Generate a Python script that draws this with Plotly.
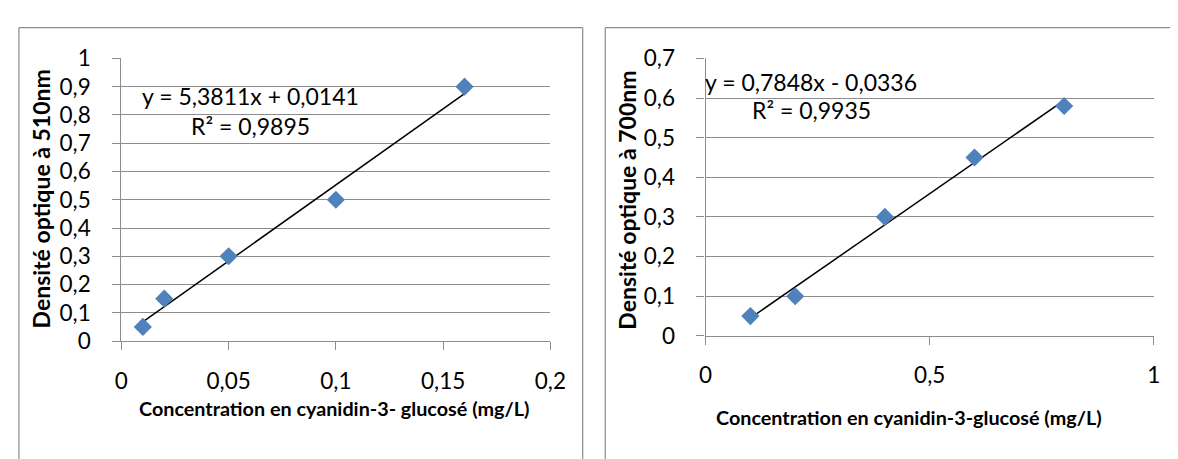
import numpy as np
import plotly.graph_objects as go

# ---- data ----
conc_510 = [0.01, 0.02, 0.05, 0.10, 0.16]
do_510 = [0.05, 0.15, 0.30, 0.50, 0.90]
conc_700 = [0.1, 0.2, 0.4, 0.6, 0.8]
do_700 = [0.05, 0.10, 0.30, 0.45, 0.58]

eq_510 = "y = 5,3811x + 0,0141"
r2_510 = "R² = 0,9895"
eq_700 = "y = 0,7848x - 0,0336"
r2_700 = "R² = 0,9935"

ytitle_510 = "Densité optique à 510nm"
ytitle_700 = "Densité optique à 700nm"
xtitle_510 = "Concentration en cyanidin-3- glucosé (mg/L)"
xtitle_700 = "Concentration en cyanidin-3-glucosé (mg/L)"

W, H = 1178, 459
OFF = 8  # page body margin offset
FONT = "Lato"
BLUE = "#4F81BD"
GRID = "#8C8C8C"


def px(x):
    return (x - OFF) / W


def py(y):
    return 1 - (y - OFF) / H


def fit_line(xs, ys):
    m, b = np.polyfit(xs, ys, 1)
    xl = [min(xs), max(xs)]
    return xl, [m * v + b for v in xl]


fig = go.Figure()

for xs, ys, xa, ya in [(conc_510, do_510, "x", "y"), (conc_700, do_700, "x2", "y2")]:
    lx, ly = fit_line(xs, ys)
    fig.add_trace(go.Scatter(x=lx, y=ly, mode="lines", xaxis=xa, yaxis=ya,
                             line=dict(color="black", width=1.5), showlegend=False,
                             hoverinfo="skip"))
    fig.add_trace(go.Scatter(x=xs, y=ys, mode="markers", xaxis=xa, yaxis=ya,
                             marker=dict(symbol="diamond", size=14, color=BLUE,
                                         line=dict(width=0)),
                             showlegend=False))

axis_common = dict(showline=True, linecolor=GRID, linewidth=1.2, ticks="outside",
                   ticklen=8, tickcolor=GRID, tickwidth=1.2,
                   tickfont=dict(family=FONT, size=22.5, color="black"),
                   zeroline=False, fixedrange=True)

fig.update_layout(
    width=W, height=H, margin=dict(l=0, r=0, t=0, b=0),
    paper_bgcolor="white", plot_bgcolor="white",
    separators=", ",
    showlegend=False,
    xaxis=dict(domain=[px(116.5), px(554)], range=[0, 0.2], dtick=0.05, tick0=0,
               showgrid=False, anchor="y", ticklabelstandoff=12, **axis_common),
    yaxis=dict(domain=[py(347), py(46.7)], range=[0, 1], dtick=0.1, tick0=0,
               showgrid=True, gridcolor=GRID, gridwidth=1.2, anchor="x",
               ticklabelstandoff=17, **axis_common),
    xaxis2=dict(domain=[px(712.3), px(1169.5)], range=[0, 1], dtick=0.5, tick0=0,
                showgrid=False, anchor="y2", ticklabelstandoff=11, **axis_common),
    yaxis2=dict(domain=[py(341.5), py(46.7)], range=[0, 0.7], dtick=0.1, tick0=0,
                showgrid=True, gridcolor=GRID, gridwidth=1.2, anchor="x2",
                ticklabelstandoff=17, **axis_common),
)

ann = []
txt_font = dict(family=FONT, size=23, color="black")
ann.append(dict(x=px(135), y=py(87), xref="paper", yref="paper", text=eq_510,
                showarrow=False, xanchor="left", yanchor="middle", font=txt_font))
ann.append(dict(x=px(185), y=py(119), xref="paper", yref="paper", text=r2_510,
                showarrow=False, xanchor="left", yanchor="middle", font=txt_font))
ann.append(dict(x=px(710), y=py(72), xref="paper", yref="paper", text=eq_700,
                showarrow=False, xanchor="left", yanchor="middle", font=txt_font))
ann.append(dict(x=px(758), y=py(101), xref="paper", yref="paper", text=r2_700,
                showarrow=False, xanchor="left", yanchor="middle", font=txt_font))

title_font = dict(family=FONT, size=23, color="black", weight="bold")
xt_font = dict(family=FONT, size=19.8, color="black", weight="bold")
ann.append(dict(x=px(34), y=py(196), xref="paper", yref="paper", text=ytitle_510,
                showarrow=False, textangle=-90, xanchor="center", yanchor="middle",
                font=title_font))
ann.append(dict(x=px(632), y=py(197), xref="paper", yref="paper", text=ytitle_700,
                showarrow=False, textangle=-90, xanchor="center", yanchor="middle",
                font=title_font))
ann.append(dict(x=px(333), y=py(418), xref="paper", yref="paper", text=xtitle_510,
                showarrow=False, xanchor="center", yanchor="middle", font=xt_font))
ann.append(dict(x=px(920), y=py(428), xref="paper", yref="paper", text=xtitle_700,
                showarrow=False, xanchor="center", yanchor="middle", font=xt_font))
fig.update_layout(annotations=ann)

# chart frames
frame = dict(type="line", xref="paper", yref="paper",
             line=dict(color="#8A8A8A", width=1.2), layer="below")
shapes = [
    dict(x0=px(12), x1=px(587), y0=py(14), y1=py(14), **frame),
    dict(x0=px(12), x1=px(12), y0=py(14), y1=py(480), **frame),
    dict(x0=px(587), x1=px(587), y0=py(14), y1=py(480), **frame),
    dict(x0=px(610), x1=px(1200), y0=py(14), y1=py(14), **frame),
    dict(x0=px(610), x1=px(610), y0=py(14), y1=py(480), **frame),
]
fig.update_layout(shapes=shapes)

fig.write_html("out.html")
